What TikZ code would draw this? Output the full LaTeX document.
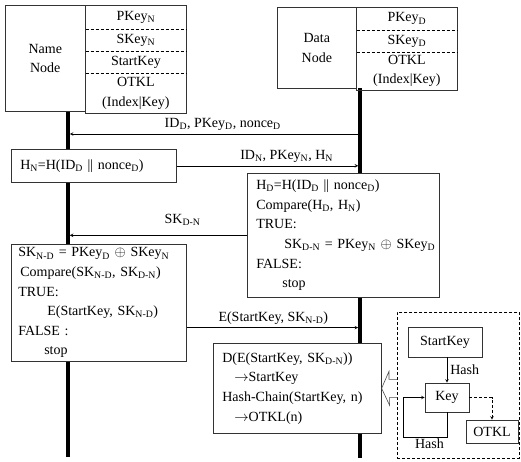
\documentclass[tikz,border=0pt]{standalone}
\usepackage{fontspec}
\setmainfont{Liberation Serif}
\usetikzlibrary{positioning,calc}
\newcommand{\sbs}[1]{\textsubscript{#1}}

\begin{document}
\begin{tikzpicture}[x=1pt, y=-1pt, >=stealth, line width=0.6pt,
	every node/.style={font=\fontsize{14}{19.6}\selectfont, inner sep=0pt},
	cell/.style={minimum width=100, align=center},
	box/.style={draw=black!80, fill=white, anchor=north west, align=left},
	lifeline/.style={line width=3.5pt},
	msg/.style={->, shorten >=1.8pt},
	dots/.style={dash pattern=on 3pt off 2pt}]

	\useasboundingbox (0,0) rectangle (521,461);

	% lifelines
	\coordinate (LN0) at (68,111);
	\coordinate (LN1) at (68,457);
	\coordinate (LD0) at (360,88);
	\coordinate (LD1) at (360,458);
	\draw [lifeline] (LN0) -- (LN1);
	\draw [lifeline] (LD0) -- (LD1);

	% Name Node
	\node [draw=black!80, anchor=north west, minimum width=80, minimum height=106, align=center] (N) at (5,5) {Name\\Node};
	\node [cell, anchor=north west, minimum height=24] (NP) at (N.north east) {PKey\sbs{N}};
	\node [cell, minimum height=21, below=0pt of NP] (NS) {SKey\sbs{N}};
	\node [cell, minimum height=21, below=0pt of NS] (NK) {StartKey};
	\node [cell, minimum height=40, below=0pt of NK] (NO) {OTKL\\(Index|Key)};
	\draw [black!80] (N.north east) rectangle (NO.south east);
	\draw [dots] (NP.south west) -- (NP.south east);
	\draw [dots] (NS.south west) -- (NS.south east);
	\draw [dots] (NK.south west) -- (NK.south east);

	% Data Node
	\node [draw=black!80, anchor=north west, minimum width=79, minimum height=81, align=center] (DN) at (277,7) {Data\\Node};
	\node [cell, anchor=north west, minimum height=23] (DP) at (DN.north east) {PKey\sbs{D}};
	\node [cell, minimum height=21, below=0pt of DP] (DS) {SKey\sbs{D}};
	\node [cell, minimum height=37, below=0pt of DS] (DO) {OTKL\\(Index|Key)};
	\draw [black!80] (DN.north east) rectangle (DO.south east);
	\draw [dots] (DP.south west) -- (DP.south east);
	\draw [dots] (DS.south west) -- (DS.south east);

	% messages
	\coordinate (m1) at ([yshift=-46pt]LD0);
	\draw [msg] (m1) -- node[pos=0.47, above=3pt] {ID\sbs{D}, PKey\sbs{D}, nonce\sbs{D}} (m1 -| LN0);

	\node [box, inner xsep=9pt, text width=147, minimum height=33] (HN) at (11,149) {H\sbs{N}=H(ID\sbs{D} || nonce\sbs{D})};
	\draw [msg] (HN.east) -- node[pos=0.6, above=3pt] {ID\sbs{N}, PKey\sbs{N}, H\sbs{N}} (HN.east -| LD0);

	\node [box, inner xsep=9pt, text width=174, minimum height=124] (HD) at (247,173)
		{H\sbs{D}=H(ID\sbs{D} || nonce\sbs{D})\\
		Compare(H\sbs{D}, H\sbs{N})\\
		TRUE:\\
		\mbox{\hspace*{28pt}SK\sbs{D-N} = PKey\sbs{N} $\oplus$ SKey\sbs{D}}\\
		FALSE:\\
		\hspace*{26pt}stop};
	\draw [msg] (HD.west) -- node[pos=0.36, above=9pt] {SK\sbs{D-N}} (HD.west -| LN0);

	\node [box, inner xsep=7pt, text width=161, minimum height=117] (SK) at (11,244)
		{SK\sbs{N-D} = PKey\sbs{D} $\oplus$ SKey\sbs{N}\\
		\hspace*{2pt}Compare(SK\sbs{N-D}, SK\sbs{D-N})\\
		TRUE:\\
		\hspace*{29pt}E(StartKey, SK\sbs{N-D})\\
		FALSE :\\
		\hspace*{26pt}stop};
	\coordinate (m4) at ([yshift=34pt]SK.south east);
	\draw [msg] (m4) -- node[above=3pt] {E(StartKey, SK\sbs{N-D})} (m4 -| LD0);

	\node [box, inner xsep=9pt, text width=150, minimum height=90] (DEC) at (213,343)
		{D(E(StartKey, SK\sbs{D-N}))\\
		\hspace*{12pt}$\rightarrow$StartKey\\
		Hash-Chain(StartKey, n)\\
		\hspace*{12pt}$\rightarrow$OTKL(n)};

	% key chain
	\node [draw, dots, anchor=north west, minimum width=122, minimum height=146] (KC) at (397,312) {};
	\node [draw=black!80, minimum width=74, minimum height=30] (SK0) at (445,342) {StartKey};
	\node [draw=black!80, minimum width=44, minimum height=29] (K) at (447,397.5) {Key};
	\node [draw=black!80, minimum width=52, minimum height=23] (O) at (492,431.5) {OTKL};

	\draw [->] (SK0.south -| K.north) -- node[right=3pt] {Hash} (K.north);
	\draw [->, dots] (K.east) -| (O.north);
	\coordinate (L) at ($(K.south)+(-44,25)$);
	\draw [->] (K.south) |- node[pos=0.7, below=1pt] {Hash} (L) |- (K.west);

	% hollow arrow
	\coordinate (T) at (DEC.east);
	\draw [black!70] ($(T -| KC.west)+(0,-9)$) -- ++(-8,0) -- ++(0,-8) -- (T) -- ++(8,17) -- ++(0,-8) -- ++(8,0);

\end{tikzpicture}
\end{document}
